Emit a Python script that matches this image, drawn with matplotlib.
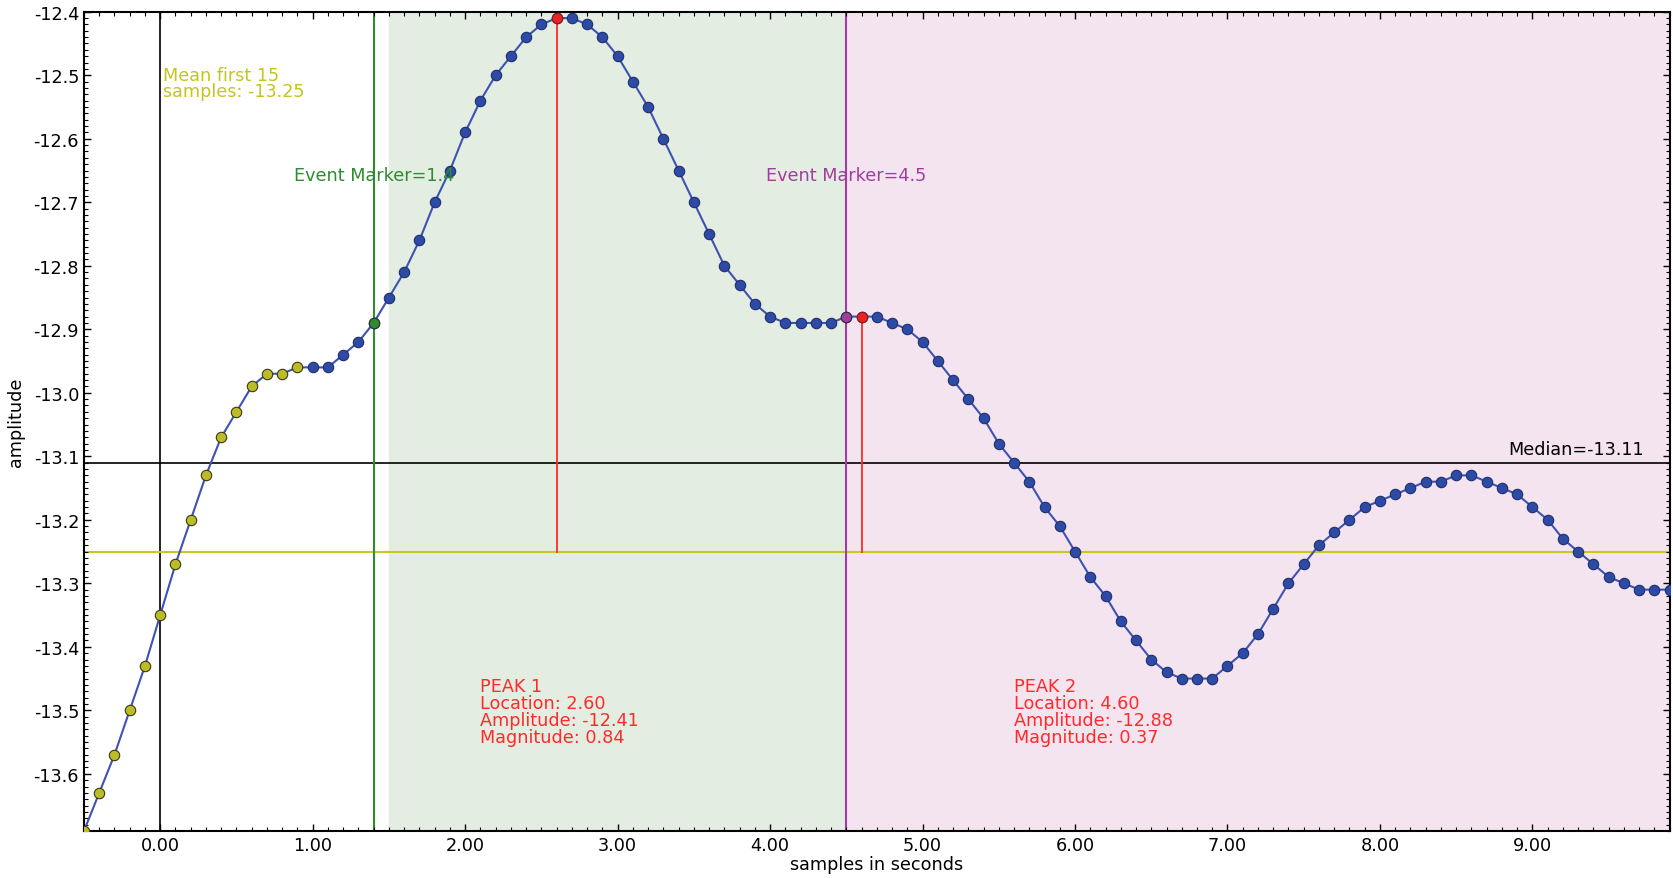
import matplotlib
matplotlib.use('agg')

from matplotlib import pyplot as plt
from matplotlib.ticker import MultipleLocator, FormatStrFormatter
import numpy as np

# samples every 0.1 s, from -0.5 to 9.9
t_start, t_step = -0.5, 0.1
amplitude = [
    -13.69, -13.63, -13.57, -13.50, -13.43, -13.35, -13.27, -13.20, -13.13, -13.07,
    -13.03, -12.99, -12.97, -12.97, -12.96, -12.96, -12.96, -12.94, -12.92, -12.89,
    -12.85, -12.81, -12.76, -12.70, -12.65, -12.59, -12.54, -12.50, -12.47, -12.44,
    -12.42, -12.41, -12.41, -12.42, -12.44, -12.47, -12.51, -12.55, -12.60, -12.65,
    -12.70, -12.75, -12.80, -12.83, -12.86, -12.88, -12.89, -12.89, -12.89, -12.89,
    -12.88, -12.88, -12.88, -12.89, -12.90, -12.92, -12.95, -12.98, -13.01, -13.04,
    -13.08, -13.11, -13.14, -13.18, -13.21, -13.25, -13.29, -13.32, -13.36, -13.39,
    -13.42, -13.44, -13.45, -13.45, -13.45, -13.43, -13.41, -13.38, -13.34, -13.30,
    -13.27, -13.24, -13.22, -13.20, -13.18, -13.17, -13.16, -13.15, -13.14, -13.14,
    -13.13, -13.13, -13.14, -13.15, -13.16, -13.18, -13.20, -13.23, -13.25, -13.27,
    -13.29, -13.30, -13.31, -13.31, -13.31,
]
baseline_count = 15
baseline_mean = -13.25
median_value = -13.11
event_markers = [1.4, 4.5]
event_colors = ['#2e8b2e', '#a23ca2']
peak_locations = [2.6, 4.6]
peak_amplitudes = [-12.41, -12.88]
peak_magnitudes = [0.84, 0.37]
peak_text_x = [2.1, 5.6]

t = t_start + t_step * np.arange(len(amplitude))
y = np.array(amplitude)

fs = 12.7
plt.rcParams['font.family'] = 'DejaVu Sans'
fig = plt.figure(figsize=(16.73, 8.79), dpi=100)
ax = fig.add_axes([0.0502, 0.0535, 0.9478, 0.932])

# shaded windows
ax.axvspan(1.5, event_markers[1], color='#e3ede2', zorder=0)
ax.axvspan(event_markers[1], t[-1], color='#f4e4f0', zorder=0)

ax.axvline(0.0, color='black', lw=1.2, zorder=1)
ax.axhline(median_value, color='black', lw=1.2, zorder=1)
ax.axhline(baseline_mean, color='#c8c81e', lw=1.5, zorder=1)
for xm, c in zip(event_markers, event_colors):
    ax.axvline(xm, color=c, lw=1.5, zorder=1)
for xp, ap in zip(peak_locations, peak_amplitudes):
    ax.plot([xp, xp], [baseline_mean, ap], color='#ff2a2a', lw=1.3, zorder=1)

ax.plot(t, y, '-', color='#3e52b4', lw=1.5, zorder=2)
ax.plot(t[baseline_count:], y[baseline_count:], 'o', ms=7.5, mfc='#2d4ba6',
        mec='#1f2f6a', mew=0.8, zorder=3)
ax.plot(t[:baseline_count], y[:baseline_count], 'o', ms=7.5, mfc='#bcbc28',
        mec='#3a3a10', mew=0.8, zorder=3)
for xm, c in zip(event_markers, event_colors):
    i = int(round((xm - t_start) / t_step))
    ax.plot(t[i], y[i], 'o', ms=7.5, mfc=c, mec='#333333', mew=0.8, zorder=4)
for xp in peak_locations:
    i = int(round((xp - t_start) / t_step))
    ax.plot(t[i], y[i], 'o', ms=7.5, mfc='#ee2020', mec='#802020', mew=0.8, zorder=4)

# text
ax.text(0.02, -12.486, 'Mean first %d\nsamples: %.2f' % (baseline_count, baseline_mean),
        color='#c4c420', fontsize=fs, va='top', linespacing=0.82)
for xm, c in zip(event_markers, event_colors):
    ax.text(xm, -12.657, 'Event Marker=%g' % xm, color=c, fontsize=fs,
            ha='center', va='center')
ax.text(9.73, median_value + 0.008, 'Median=%.2f' % median_value, color='black',
        fontsize=fs, ha='right', va='bottom')
for k in range(len(peak_locations)):
    ax.text(peak_text_x[k], -13.447,
            'PEAK %d\nLocation: %.2f\nAmplitude: %.2f\nMagnitude: %.2f'
            % (k + 1, peak_locations[k], peak_amplitudes[k], peak_magnitudes[k]),
            color='#ff2a2a', fontsize=fs, va='top', linespacing=0.93)

ax.set_xlim(t[0], t[-1])
ax.set_ylim(-13.69, -12.4)
ax.xaxis.set_major_locator(MultipleLocator(1.0))
ax.xaxis.set_minor_locator(MultipleLocator(0.1))
ax.yaxis.set_major_locator(MultipleLocator(0.1))
ax.yaxis.set_minor_locator(MultipleLocator(0.01))
ax.xaxis.set_major_formatter(FormatStrFormatter('%.2f'))
ax.yaxis.set_major_formatter(FormatStrFormatter('%.1f'))
ax.tick_params(which='both', direction='in', top=True, right=True, labelsize=fs)
ax.tick_params(which='major', length=5, width=1)
ax.tick_params(which='minor', length=3, width=0.8)
for side in ['left', 'top', 'right', 'bottom']:
    ax.spines[side].set_linewidth(1.5)
ax.set_xlabel('samples in seconds', fontsize=fs, labelpad=1)
ax.set_ylabel('amplitude', fontsize=fs, labelpad=6)

fig.savefig('out.png', dpi=100)
